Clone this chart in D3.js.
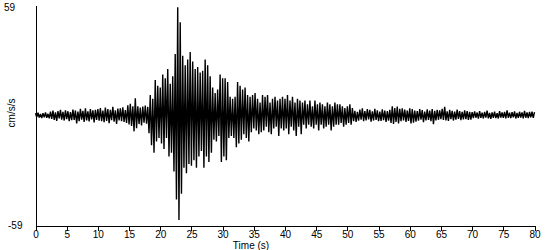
<!DOCTYPE html>
<html>
<head>
<meta charset="utf-8">
<script src="https://cdn.jsdelivr.net/npm/d3@7"></script>
<style>
  body { margin: 0; background: #fff; }
  text { font-family: Arial, "Liberation Sans", sans-serif; font-size: 10px; fill: #000; }
</style>
</head>
<body>
<div id="chart"></div>
<script>
// acceleration trace, cm/s/s, one value every 0.2 s, split in 10 s pieces
var dt = 0.2
var acc00 = [1.2,-0.9,1.5,-1.1,0.8,-1.4,1.3,-1.0,1.6,-1.2,0.9,-1.5,
  2.1,-1.8,2.6,-2.3,1.7,-2.9,2.4,-1.6,3.0,-2.2,1.9,-2.7,2.8,-2.0,2.3,-3.1,1.8,-2.5,
  3.2,-2.4,2.7,-4.2,2.1,-3.0,3.6,-2.2,2.5,-3.4,3.9,-2.6,2.2,-3.2,3.4,-2.1,2.8,-3.7,3.1,-2.4]
var acc10 = [3.5,-2.8,4.0,-3.1,2.7,
  -3.6,4.3,-2.9,3.4,-4.1,3.0,-2.5,4.6,-3.3,2.8,-4.5,3.7,-2.6,3.9,-3.0,4.4,-3.5,2.9,-4.0,
  5.5,-4.8,6.3,-5.6,4.9,
  -8.5,9.2,-6.8,
  5.0,-4.6,4.2,-5.3,4.8,-3.9,5.4,-4.4,4.6,
  -9.5,11,-16,9,
  -20,19,-14,16,-12]
var acc20 = [15,-15,22,-18,20,-12,25,-22,17,-20,
  21,-30,33,-45,58,-56,50,
  -42,32,-28,27,-31,30,
  -26,34,-27,29,-24,25,-28,26,
  -22,23,
  -19,24,-28,30,-22,27,-25,21,
  -20,15,-13,12,-14,14,
  -11,22,-25]
var acc30 = [20,-22,20,-24,
  18,-12,10,-11,9,-12,
  10,-17,18,-15,16,
  -13,14,-10,15,-12,11,-14,10,
  -9,11,-7,12,-8,9,-10,7,-9,11,
  -8,10,-6,11,-9,7,-10,9,-7,10,-6,8,-11,9,-7,10,-8]
var acc40 = [9,-7,11,-10,8,-6,10,-8,7,-11,9,-6,8,
  -10,7,-5,8,-7,6,-5,8,-6,5,-7,8,-5,6,-8,7,-5,6,-7,5,-6,7,-5,6,-8,5,-6,7,-5,6,
  -5,6,-4,5,-6,4,-5]
var acc50 = [5,-4,6,-5,4,
  -3,2.5,-3.5,2,-2.8,3.2,-2.2,3.8,-3,2.4,-2.6,3.5,-2.1,3,-3.3,2.2,-2.7,3.6,-2.4,
  2.8,-3.1,2.1,-2.9,3.3,-2.5,2.6,-3.4,2.3,-2.8,3.1,
  -4,5,-4.5,4,-3.5,4.8,-4.2,3.6,
  -3,3.8,-2.6,3.2,-3.4,2.7,-2.9]
var acc60 = [3.9,-4.2,3.5,-3.8,2.7,-3.3,2.4,-2.8,3.5,-2.2,
  2.9,-3.6,2.1,-2.6,3.3,-2.4,2.6,-3.0,3.4,-4.6,
  2.5,-2.7,3.1,-2.3,2.8,-2.0,3.6,-2.4,4.6,-2.6,
  2.2,-2.9,3.0,-1.9,2.5,-2.7,2.1,-2.2,3.2,-1.8,
  2.4,-2.5,2.0,-2.1,2.8,-1.9,2.3,-2.4,1.9,-2.2]
var acc70 = [1.8,-1.4,2.2,-1.2,1.6,-1.7,2.4,-1.3,1.5,-1.6,
  1.9,-1.1,2.6,-1.5,1.4,-1.8,1.7,-1.2,2.1,-1.4,
  1.3,-1.6,2.3,-1.1,1.6,-1.3,1.9,-1.5,2.7,-1.2,
  1.5,-1.4,1.8,-1.0,2.2,-1.6,1.4,-1.3,2.0,-1.1,
  1.7,-1.5,2.5,-1.2,1.6,-1.4,1.9,-1.0,2.1,-1.3,1.8]

var xTicks = d3.range(0, 81, 5)
var yMax = 59

var trace = [].concat(acc00, acc10, acc20, acc30, acc40, acc50, acc60, acc70)

var svg = d3.select('#chart')
  .append('svg')
  .attr('width', 550)
  .attr('height', 250)

var x = d3.scaleLinear()
  .domain([0, 80])
  .range([35.5, 534.5])

var y = d3.scaleLinear()
  .domain([-yMax, yMax])
  .range([225.5, 5.5])

// waveform, drawn a bit thick so the dense swings fill in solid
var line = d3.line()
  .x(function(d, i) { return x(i * dt) })
  .y(function(d) { return y(d) })

svg.append('path')
  .datum(trace)
  .attr('d', line)
  .attr('fill', 'none')
  .attr('stroke', '#000')
  .attr('stroke-width', 1.4)
  .attr('stroke-linejoin', 'miter')
  .attr('stroke-miterlimit', 1)

// x axis
var xAxis = d3.axisBottom(x)
  .tickValues(xTicks)
  .tickSize(5)
  .tickSizeOuter(0)
  .tickPadding(0)

var gx = svg.append('g')
  .attr('transform', 'translate(0,' + y(-yMax) + ')')
  .call(xAxis)
gx.attr('font-size', null).attr('font-family', null)
gx.selectAll('path, line').attr('stroke', '#000').attr('shape-rendering', 'crispEdges')

// y axis, only the line and end labels
var gy = svg.append('g')
  .attr('transform', 'translate(' + x(0) + ',0)')
  .call(d3.axisLeft(y).tickValues([]).tickSizeOuter(0))
gy.selectAll('path').attr('stroke', '#000').attr('shape-rendering', 'crispEdges')

svg.append('text')
  .attr('x', 4)
  .attr('y', y(yMax) + 5)
  .text(yMax)

svg.append('text')
  .attr('x', 8)
  .attr('y', y(-yMax) + 3)
  .text(-yMax)

svg.append('text')
  .attr('x', 251)
  .attr('y', 249)
  .attr('text-anchor', 'middle')
  .text('Time (s)')

svg.append('text')
  .attr('transform', 'translate(15,113) rotate(-90)')
  .attr('text-anchor', 'middle')
  .text('cm/s/s')
</script>
</body>
</html>
